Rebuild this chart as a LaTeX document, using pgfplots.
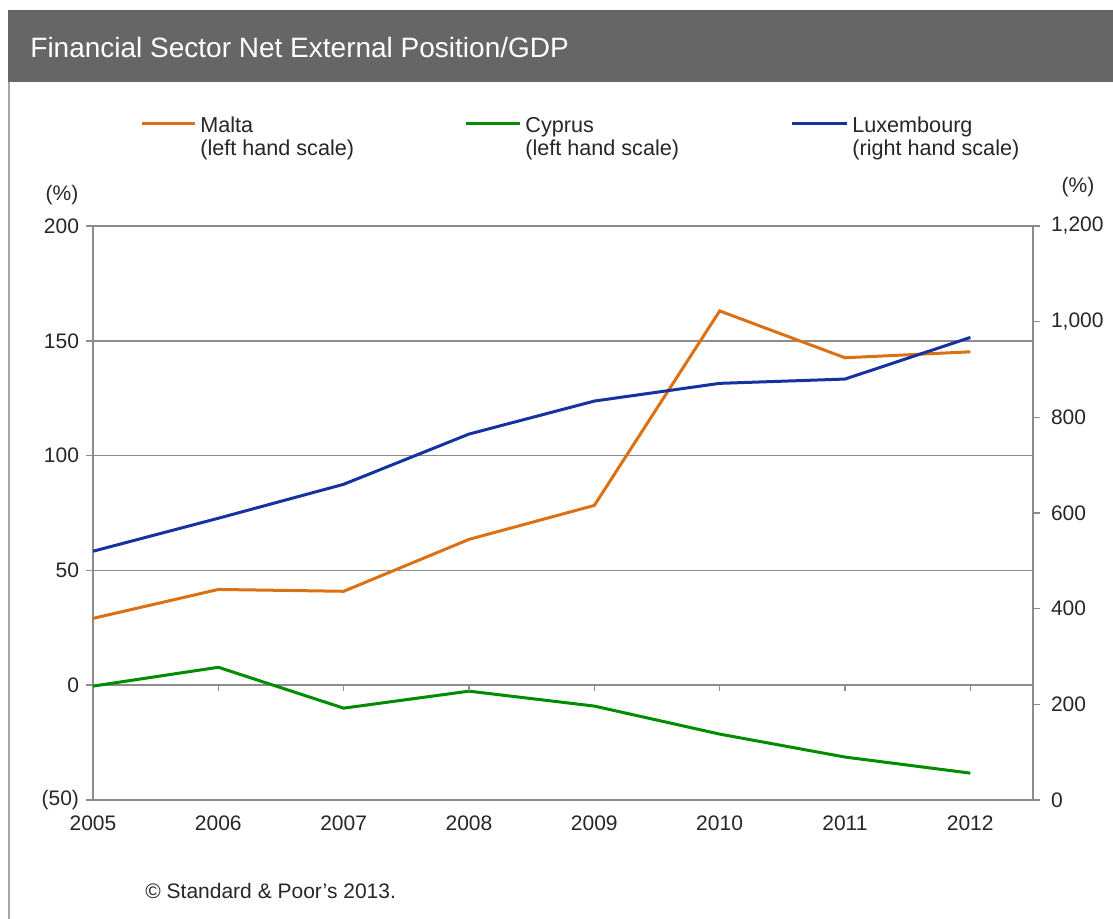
\documentclass[border=0pt]{standalone}
\usepackage{pgfplots}
\pgfplotsset{compat=1.18}
\usepackage{fontspec}
\setmainfont{Liberation Sans}

\definecolor{titlebar}{HTML}{666666}
\definecolor{gridgray}{HTML}{8C8C8C}
\definecolor{maltac}{HTML}{DC7014}
\definecolor{cyprusc}{HTML}{008C00}
\definecolor{luxc}{HTML}{1432A0}
\definecolor{txt}{HTML}{262626}

\pgfplotsset{
  common/.style={
    scale only axis,
    width=470pt, height=287pt,
    at={(46.5pt,59.5pt)}, anchor=south west,
    xmin=2005, xmax=2012.5,
    tick align=outside,
    major tick length=3.5pt,
    tick style={gridgray, line width=0.8pt},
    ticklabel style={font=\fontsize{10.5}{12}\selectfont, text=txt},
    /pgf/number format/assume math mode=true,
  }
}

\begin{document}
\begin{tikzpicture}
\useasboundingbox (0,0) rectangle (556.5pt,459.5pt);
% header bar and frame
\fill[titlebar] (4pt,418.5pt) rectangle (556.5pt,454.5pt);
\node[anchor=west, text=white, font=\fontsize{14}{16}\selectfont, inner sep=0pt] at (15pt,435.5pt) {Financial Sector Net External Position/GDP};
\draw[gray!70, line width=1pt] (4.5pt,0pt) -- (4.5pt,418.5pt);

% legend
\tikzset{legtxt/.style={anchor=base west, inner sep=0pt, text=txt, font=\fontsize{10.8}{12}\selectfont}}
\draw[maltac, line width=1.5pt] (71pt,397.5pt) -- (97.5pt,397.5pt);
\node[legtxt] at (100pt,393pt) {Malta};
\node[legtxt] at (100pt,381.5pt) {(left hand scale)};
\draw[cyprusc, line width=1.5pt] (233pt,397.5pt) -- (260pt,397.5pt);
\node[legtxt] at (262.5pt,393pt) {Cyprus};
\node[legtxt] at (262.5pt,381.5pt) {(left hand scale)};
\draw[luxc, line width=1.5pt] (396pt,397.5pt) -- (423.5pt,397.5pt);
\node[legtxt] at (426pt,393pt) {Luxembourg};
\node[legtxt] at (426pt,381.5pt) {(right hand scale)};

\node[text=txt, font=\fontsize{10.5}{12}\selectfont] at (31pt,362pt) {(\%)};
\node[text=txt, font=\fontsize{10.5}{12}\selectfont] at (539pt,366pt) {(\%)};
\node[anchor=west, text=txt, font=\fontsize{10.5}{12}\selectfont, inner sep=0pt] at (72.5pt,14pt) {© Standard \& Poor's 2013.};

% left-hand scale
\begin{axis}[common,
  ymin=-50, ymax=200,
  ytick={-50,0,50,100,150,200},
  yticklabels={(50),0,50,100,150,200},
  xtick={2005,...,2012},
  xticklabels={2005,2006,2007,2008,2009,2010,2011,2012},
  x tick style={draw=none},
  xticklabel style={yshift=-1pt},
  axis x line*=bottom,
  axis y line*=left,
  x axis line style={draw=none},
  y axis line style={gridgray, line width=0.8pt, -},
  ymajorgrids,
  grid style={gridgray, line width=0.8pt},
  clip=false,
]
\addplot[maltac, line width=1.5pt] coordinates {
 (2005,29.1) (2006,41.7) (2007,40.9) (2008,63.5)
 (2009,78.3) (2010,163.0) (2011,142.6) (2012,145.2)};
\addplot[cyprusc, line width=1.5pt] coordinates {
 (2005,-0.4) (2006,7.8) (2007,-10.0) (2008,-2.6)
 (2009,-9.1) (2010,-21.3) (2011,-31.3) (2012,-38.3)};
\draw[gridgray, line width=0.8pt] (axis cs:2005,-50) -- (axis cs:2012.5,-50);
\pgfplotsinvokeforeach{2006,2007,2008,2009,2010,2011,2012}{
  \draw[gridgray, line width=0.8pt] (axis cs:#1,0) -- ++(0pt,-3pt);
}
\end{axis}

% right-hand scale
\begin{axis}[common,
  ymin=0, ymax=1200,
  ytick={0,200,...,1200},
  axis x line=none,
  axis y line*=right,
  axis line style={gridgray, line width=0.8pt, -},
  yticklabel style={/pgf/number format/1000 sep={,}, xshift=2pt},
]
\addplot[luxc, line width=1.5pt] coordinates {
 (2005,520) (2006,589) (2007,660) (2008,765)
 (2009,834) (2010,871) (2011,880) (2012,967)};
\end{axis}
\end{tikzpicture}
\end{document}
